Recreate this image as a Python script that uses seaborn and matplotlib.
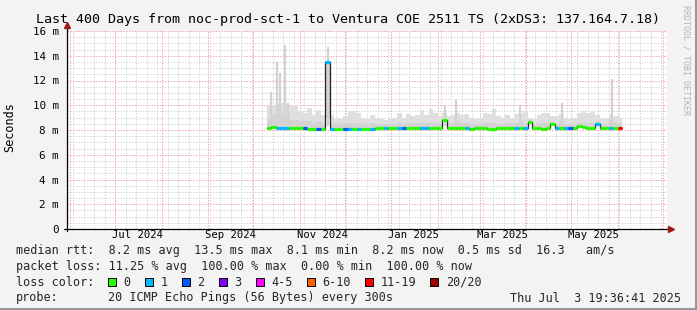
import numpy as np
import pandas as pd
import matplotlib
matplotlib.use("Agg")
import matplotlib.pyplot as plt
import matplotlib.dates as mdates
from matplotlib.patches import Rectangle
import seaborn as sns

# ---------------- data ----------------
title = "Last 400 Days from noc-prod-sct-1 to Ventura COE 2511 TS (2xDS3: 137.164.7.18)"
y_ticks = [0, 2, 4, 6, 8, 10, 12, 14, 16]
y_tick_labels = ["0", "2 m", "4 m", "6 m", "8 m", "10 m", "12 m", "14 m", "16 m"]
month_labels = ["Jul 2024", "Sep 2024", "Nov 2024", "Jan 2025", "Mar 2025", "May 2025"]
range_start = "2024-05-29 19:36:41"
range_end = "2025-07-03 19:36:41"
data_start = "2024-10-10"
step_days = 3

median_ms = [8.20, 8.21, 8.20, 8.20, 8.19, 8.20, 8.20, 8.20, 8.19,
             8.08, 8.08, 8.07, 8.08, 13.50,
             8.10, 8.12, 8.12, 8.10, 8.10, 8.09, 8.08, 8.08, 8.09, 8.10,
             8.18, 8.18, 8.17, 8.18, 8.19, 8.18, 8.18, 8.17, 8.18, 8.18, 8.16, 8.17, 8.18, 8.18, 8.17,
             8.80,
             8.15, 8.15, 8.14, 8.15, 8.13, 8.12, 8.14, 8.15, 8.15, 8.12, 8.12, 8.14, 8.15, 8.15, 8.13, 8.15, 8.16, 8.15,
             8.65,
             8.15, 8.14, 8.12, 8.15,
             8.50,
             8.15, 8.16, 8.14, 8.15, 8.15,
             8.35, 8.25, 8.20, 8.20, 8.45,
             8.15, 8.15, 8.16, 8.15, 8.15]
smoke_hi_ms = [10.0, 10.0, 10.1, 10.2, 9.9, 9.9, 10.0, 9.5, 9.4, 9.8,
               9.2, 9.6, 9.2, 9.4, 9.2, 9.0, 8.9, 9.1, 9.5, 9.5,
               9.4, 9.0, 8.9, 9.2, 9.0, 8.9, 8.8, 8.9, 9.0, 9.4,
               9.0, 9.3, 9.1, 9.2, 9.6, 9.2, 9.7, 9.4, 9.1, 9.4,
               9.1, 9.2, 9.4, 9.2, 9.3, 9.0, 8.9, 9.0, 9.4, 9.3,
               9.7, 9.1, 9.0, 9.2, 9.0, 9.3, 9.4, 9.5, 9.0, 8.9,
               9.2, 9.4, 9.4, 9.1, 9.1, 9.3, 9.0, 8.9, 9.0, 9.4,
               9.5, 9.4, 9.5, 9.2, 8.9, 9.0, 9.3, 9.1, 9.0]
smoke_mid_ms = [8.9, 9.2, 9.3, 9.3, 8.9, 8.8, 8.8, 8.7, 8.7, 8.7,
                8.6, 8.7, 8.6, 9.0, 8.6, 8.5, 8.5, 8.6, 8.6, 8.6,
                8.6, 8.5, 8.5, 8.6, 8.5, 8.5, 8.5, 8.5, 8.5, 8.6,
                8.5, 8.6, 8.5, 8.6, 8.6, 8.6, 8.6, 8.6, 8.5, 8.9,
                8.5, 8.6, 8.7, 8.6, 8.6, 8.5, 8.5, 8.5, 8.6, 8.6,
                8.6, 8.5, 8.5, 8.6, 8.5, 8.6, 8.7, 8.6, 8.8, 8.5,
                8.6, 8.6, 8.6, 8.7, 8.5, 8.7, 8.5, 8.5, 8.5, 8.6,
                8.6, 8.6, 8.6, 8.7, 8.5, 8.5, 8.8, 8.6, 8.5]
loss_code = [0, 0, 1, 1, 1, 0, 0, 0, 2, 0,
             0, 2, 0, 1, 1, 0, 0, 2, 1, 0,
             1, 0, 0, 1, 0, 0, 1, 0, 0, 1,
             2, 0, 0, 0, 1, 1, 0, 0, 0, 0,
             0, 0, 0, 0, 1, 0, 0, 0, 0, 0,
             0, 0, 0, 0, 0, 1, 0, 1, 0, 0,
             0, 0, 0, 0, 1, 0, 1, 2, 0, 0,
             0, 0, 0, 1, 0, 0, 1, 0, 6]
# single-poll smoke spikes (max ping rtt)
spike_dates = ["2024-10-13", "2024-10-17", "2024-10-19", "2024-10-22", "2024-10-24",
               "2024-11-20", "2025-02-06", "2025-02-13", "2025-03-28", "2025-04-25", "2025-05-28"]
spike_ms = [11.1, 13.5, 12.6, 14.9, 10.2, 14.7, 10.0, 10.4, 10.0, 10.2, 12.1]

loss_labels = ["0", "1", "2", "3", "4-5", "6-10", "11-19", "20/20"]
loss_colors = ["#26ff00", "#00b8ff", "#0059ff", "#7e00ff", "#ff00ff", "#ff5e00", "#ff0000", "#a10000"]

legend_lines = [
    "median rtt:  8.2 ms avg  13.5 ms max  8.1 ms min  8.2 ms now  0.5 ms sd  16.3   am/s",
    "packet loss: 11.25 % avg  100.00 % max  0.00 % min  100.00 % now",
]
probe_text = "20 ICMP Echo Pings (56 Bytes) every 300s"
stamp_text = "Thu Jul  3 19:36:41 2025"
watermark = "RRDTOOL / TOBI OETIKER"

# ---------------- figure ----------------
sns.set_theme(style="white")
plt.rcParams["font.family"] = ["DejaVu Sans Mono", "DejaVu Sans"]

W, H = 697, 310
BG = "#f3f3f3"
fig = plt.figure(figsize=(W / 100, H / 100), dpi=100, facecolor=BG)

def fx(px):
    return px / W

def fy(py):
    return 1 - py / H

L, R, T, B = 67, 667, 31, 229
ax = fig.add_axes([fx(L), fy(B), (R - L) / W, (B - T) / H])
ax.set_facecolor("white")

t0 = pd.Timestamp(range_start)
t1 = pd.Timestamp(range_end)
ax.set_xlim(mdates.date2num(t0), mdates.date2num(t1))
ax.set_ylim(0, 16)

# grid
MGRID = "#f5a5a5"
GRID = "#d6d6d6"
dot = (0, (1.4, 1.4))
weeks = pd.date_range(t0.normalize(), t1, freq="W-MON")
months = pd.date_range(t0.normalize(), t1, freq="MS")
for d in weeks:
    ax.axvline(mdates.date2num(d), color=GRID, lw=0.72, ls=dot, zorder=0)
for v in np.arange(0.5, 16.01, 0.5):
    if v % 2 != 0:
        ax.axhline(v, color=GRID, lw=0.72, ls=dot, zorder=0)
for d in months:
    ax.axvline(mdates.date2num(d), color=MGRID, lw=0.72, ls=dot, zorder=0.5)
for v in y_ticks[1:]:
    ax.axhline(v, color=MGRID, lw=0.72, ls=dot, zorder=0.5)

# data frame
dates = pd.date_range(data_start, periods=len(median_ms), freq=f"{step_days}D")
df = pd.DataFrame({"date": dates, "median": median_ms, "hi": smoke_hi_ms,
                   "mid": smoke_mid_ms, "loss": loss_code})
xe = mdates.date2num(list(dates) + [dates[-1] + pd.Timedelta(days=step_days)])
med_e = np.append(df["median"].values, df["median"].values[-1])
hi_e = np.append(df["hi"].values, df["hi"].values[-1])
mid_e = np.append(df["mid"].values, df["mid"].values[-1])

ax.fill_between(xe, med_e - 0.12, hi_e, step="post", color="#dfdfdf", lw=0, zorder=1)
ax.fill_between(xe, med_e - 0.08, mid_e, step="post", color="#d3d3d3", lw=0, zorder=1.1)
spk = pd.DataFrame({"date": pd.to_datetime(spike_dates), "rtt": spike_ms})
sx = mdates.date2num(spk["date"])
ax.vlines(sx, 8.3, spk["rtt"], color="#d2d2d2", lw=1.6, zorder=1.2)

df_line = pd.DataFrame({"x": xe, "y": med_e})
sns.lineplot(data=df_line, x="x", y="y", ax=ax, drawstyle="steps-post",
             color="#202020", lw=0.9, zorder=2)
for i, row in df.iterrows():
    ax.hlines(row["median"], xe[i], xe[i + 1], color=loss_colors[int(row["loss"])],
              lw=2.3, zorder=3)

ax.set_xlabel("")
ax.set_ylabel("")
for s in ax.spines.values():
    s.set_visible(False)

# axes lines with arrows
ax.plot([-0.005, 1.003], [0, 0], transform=ax.transAxes, color="black", lw=0.9, clip_on=False, zorder=5)
ax.plot([0, 0], [-0.01, 1.02], transform=ax.transAxes, color="black", lw=0.9, clip_on=False, zorder=5)
ax.plot([1.006], [0], transform=ax.transAxes, marker=">", color="#a01818", ms=5, clip_on=False, zorder=6)
ax.plot([0], [1.03], transform=ax.transAxes, marker="^", color="#a01818", ms=5, clip_on=False, zorder=6)

# ticks
ax.set_yticks(y_ticks)
ax.set_yticklabels(y_tick_labels)
ax.tick_params(axis="y", length=0, pad=6, labelsize=7.8, labelcolor="black")
lab_pos = [mdates.date2num(pd.to_datetime(m, format="%b %Y") + pd.Timedelta(days=15)) for m in month_labels]
ax.set_xticks(lab_pos)
ax.set_xticklabels(month_labels)
ax.tick_params(axis="x", length=0, pad=1, labelsize=7.6, labelcolor="black")

# texts
fig.text(fx(348), fy(19), title, ha="center", va="center", fontsize=9.6, color="black")
fig.text(fx(10), fy(127), "Seconds", rotation=90, ha="center", va="center", fontsize=8.5, color="black")
fig.text(fx(686), fy(60), watermark, rotation=270, ha="center", va="center", fontsize=6, color="#b4b4b4")

LF = 8.5
CW = LF * 100 / 72 * 0.602  # monospace advance in px
row_y = [250.5, 266.3, 282, 298]
for line, yy in zip(legend_lines, row_y[:2]):
    fig.text(fx(16), fy(yy), line, ha="left", va="center", fontsize=LF)

fig.text(fx(16), fy(row_y[2]), "loss color:", ha="left", va="center", fontsize=LF)
bx = 108.0
for lab, col in zip(loss_labels, loss_colors):
    fig.patches.append(Rectangle((fx(bx), fy(row_y[2] + 4)), 8 / W, 8 / H, transform=fig.transFigure,
                                 facecolor=col, edgecolor="black", lw=0.7, figure=fig))
    fig.text(fx(bx + 15.5), fy(row_y[2]), lab, ha="left", va="center", fontsize=LF)
    bx = bx + 15.5 + len(lab) * CW + 14.3

fig.text(fx(16), fy(row_y[3]), "probe:", ha="left", va="center", fontsize=LF)
fig.text(fx(108), fy(row_y[3]), probe_text, ha="left", va="center", fontsize=LF)
fig.text(fx(681), fy(row_y[3]), stamp_text, ha="right", va="center", fontsize=LF)

# frame
fig.add_artist(plt.Line2D([0, 1], [fy(309), fy(309)], color="#999999", lw=1.5, transform=fig.transFigure))
fig.add_artist(plt.Line2D([fx(696), fx(696)], [0, 1], color="#999999", lw=1.5, transform=fig.transFigure))

fig.savefig("out.png", dpi=100, facecolor=BG)
